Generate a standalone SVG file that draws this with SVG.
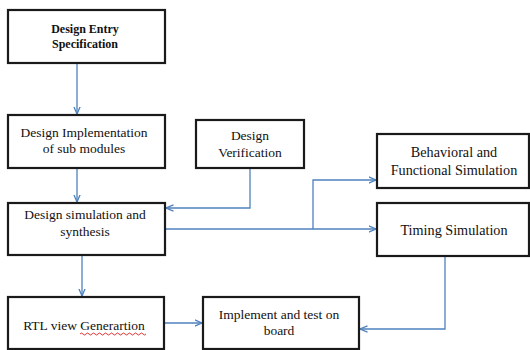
<svg xmlns="http://www.w3.org/2000/svg" width="530" height="350" viewBox="0 0 530 350">
<style>
.box{fill:#fff;stroke:#1a1a1a;stroke-width:2.2}
.t{font-family:"Liberation Serif","Times New Roman",serif;font-size:13.5px;fill:#111;text-anchor:middle}
.s{font-size:12px;font-weight:bold}
.w{font-size:14.2px}
.c{fill:none;stroke:#4f81bd;stroke-width:1.3}
</style>
<defs>
<marker id="a" viewBox="0 0 8 8" refX="7.5" refY="4" markerWidth="8" markerHeight="8" markerUnits="userSpaceOnUse" orient="auto">
<path d="M0,0.8 L7.5,4 L0,7.2" fill="none" stroke="#4f81bd" stroke-width="1.3"/>
</marker>
</defs>
<rect width="530" height="350" fill="#fff"/>
<g id="connectors">
<path class="c" d="M77,63 V114" marker-end="url(#a)"/>
<path class="c" d="M77,168 V202" marker-end="url(#a)"/>
<path class="c" d="M250,168 V208 H166" marker-end="url(#a)"/>
<path class="c" d="M165,229 H376" marker-end="url(#a)"/>
<path class="c" d="M313,229 V180 H376" marker-end="url(#a)"/>
<path class="c" d="M82,255 V296" marker-end="url(#a)"/>
<path class="c" d="M165,323 H202" marker-end="url(#a)"/>
<path class="c" d="M445,256 V329 H360" marker-end="url(#a)"/>
</g>
<g id="n1"><rect class="box" x="8" y="10" width="157" height="53"/><text class="t s" x="85" y="33">Design Entry</text><text class="t s" x="85" y="48">Specification</text></g>
<g id="n2"><rect class="box" x="8" y="115" width="157" height="53"/><text class="t" x="84" y="137">Design Implementation</text><text class="t" x="84" y="153">of sub modules</text></g>
<g id="n3"><rect class="box" x="8" y="203" width="157" height="52"/><text class="t" x="85" y="219">Design simulation and</text><text class="t" x="85" y="236">synthesis</text></g>
<g id="n4"><rect class="box" x="196" y="120" width="108" height="48"/><text class="t" x="250" y="140">Design</text><text class="t" x="250" y="157">Verification</text></g>
<g id="n5"><rect class="box" x="377" y="134" width="152" height="54"/><text class="t w" x="454" y="157">Behavioral and</text><text class="t w" x="454" y="175">Functional Simulation</text></g>
<g id="n6"><rect class="box" x="377" y="203" width="152" height="53"/><text class="t w" x="454" y="235">Timing Simulation</text></g>
<g id="n7"><rect class="box" x="8" y="297" width="156" height="52"/><text class="t" x="84" y="330">RTL view Generartion</text>
<path d="M80,334 q1.5,-2 3,0 t3,0 t3,0 t3,0 t3,0 t3,0 t3,0 t3,0 t3,0 t3,0 t3,0 t3,0 t3,0 t3,0 t3,0 t3,0 t3,0 t3,0 t3,0 t3,0 t3,0 t3,0" fill="none" stroke="#e02020" stroke-width="0.9"/></g>
<g id="n8"><rect class="box" x="203" y="297" width="156" height="52"/><text class="t" x="279" y="319">Implement and test on</text><text class="t" x="279" y="335">board</text></g>
</svg>
